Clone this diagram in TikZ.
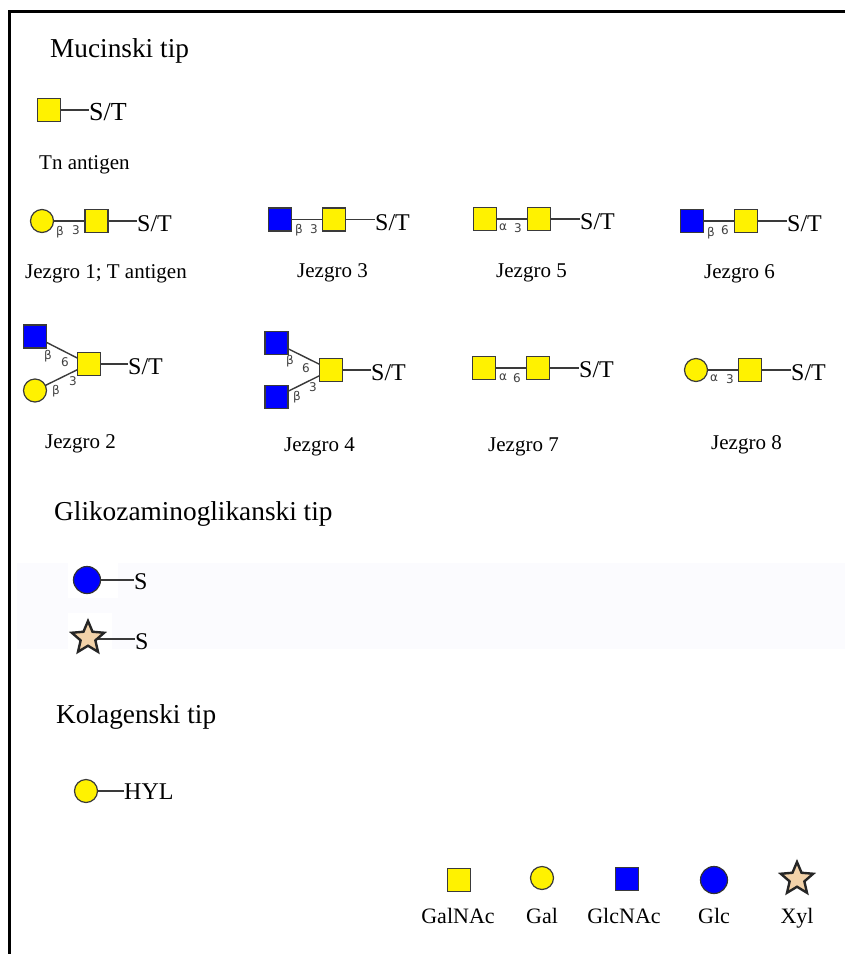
\documentclass[tikz,border=0pt]{standalone}
\usepackage{fontspec}
\setmainfont{Liberation Serif}
\newfontfamily\linkfont{DejaVu Sans}
\usetikzlibrary{shapes.geometric}
\definecolor{symline}{HTML}{3A3A3A}
\definecolor{xylfill}{HTML}{F2D2A9}
\definecolor{bandcol}{HTML}{FBFBFE}
\tikzset{
  x=1pt,y=-1pt,
  sym/.style={draw=symline,line width=1.2pt,inner sep=0pt,outer sep=0pt},
  galnac/.style={sym,rectangle,fill=yellow,minimum size=23pt},
  glcnac/.style={sym,rectangle,fill=blue,minimum size=23pt},
  gal/.style={sym,circle,fill=yellow,minimum size=23pt},
  glc/.style={sym,circle,fill=blue,draw=black!80,minimum size=27pt},
  xyl/.style={star,star points=5,star point ratio=2.2,fill=xylfill,draw=black!85,line width=2.4pt,inner sep=0pt,outer sep=0pt,minimum size=34pt},
  bond/.style={draw=symline,line width=1.4pt},
  head/.style={anchor=base west,inner sep=0pt,font=\fontsize{27.3}{30}\selectfont},
  caption/.style={anchor=base west,inner sep=0pt,font=\fontsize{21}{25}\selectfont},
  legendtext/.style={anchor=base,inner sep=0pt,font=\fontsize{22}{25}\selectfont},
  site/.style={anchor=base west,inner sep=0pt,font=\fontsize{24}{28}\selectfont},
  bigsite/.style={site,font=\fontsize{26}{28}\selectfont},
  link/.style={inner sep=0pt,text=black!75,font=\linkfont\fontsize{12}{14}\selectfont},
}
\begin{document}
\begin{tikzpicture}
\useasboundingbox (0,0) rectangle (845,954);
\fill[white] (0,0) rectangle (845,954);
\fill[bandcol] (17,563) rectangle (845,649);
\fill[white] (68,555) rectangle (118,598);
\fill[white] (68,613) rectangle (112,657);
\draw[black,line width=3pt] (9,954) -- (9,11) -- (845,11);

% headings
\node[head] (hmuc) at (50,57) {Mucinski tip};
\node[head] (hgag) at (54,520) {Glikozaminoglikanski tip};
\node[head] (hkol) at (56,723) {Kolagenski tip};

% Tn antigen
\node[galnac] (tn) at (49,110) {};
\node[bigsite] (tnst) at (89,120) {S/T};
\draw[bond] (tn) -- (tn -| tnst.west);
\node[caption] (ctn) at (39,169) {Tn antigen};

% Jezgro 1
\node[gal] (a1) at (42,221) {};
\node[galnac] (a2) at (96.500,221) {};
\node[site] (ast) at (137,231.500) {S/T};
\draw[bond] (a1) -- (a2);
\draw[bond] (a2) -- (a2 -| ast.west);
\node[link] (al1) at (60,232) {β};
\node[link] (al2) at (76,230) {3};
\node[caption] (ca) at (25,278) {Jezgro 1; T antigen};

% Jezgro 3
\node[glcnac] (b1) at (280,219.500) {};
\node[galnac] (b2) at (334,219.500) {};
\node[site] (bst) at (375,230) {S/T};
\draw[bond] (b1) -- (b2);
\draw[bond] (b2) -- (b2 -| bst.west);
\node[link] (bl1) at (299,230) {β};
\node[link] (bl2) at (314,229) {3};
\node[caption] (cb) at (297,277) {Jezgro 3};

% Jezgro 5
\node[galnac] (c1) at (485,219) {};
\node[galnac] (c2) at (539,219) {};
\node[site] (cst) at (580,229.500) {S/T};
\draw[bond] (c1) -- (c2);
\draw[bond] (c2) -- (c2 -| cst.west);
\node[link] (cl1) at (503,227) {α};
\node[link] (cl2) at (518,228) {3};
\node[caption] (cc) at (496,277) {Jezgro 5};

% Jezgro 6
\node[glcnac] (d1) at (692,221) {};
\node[galnac] (d2) at (746,221) {};
\node[site] (dst) at (787,231) {S/T};
\draw[bond] (d1) -- (d2);
\draw[bond] (d2) -- (d2 -| dst.west);
\node[link] (dl1) at (711,233) {β};
\node[link] (dl2) at (725,230) {6};
\node[caption] (cd) at (704,278) {Jezgro 6};

% Jezgro 2
\node[glcnac] (e1) at (35,336.500) {};
\node[gal] (e2) at (35,390.500) {};
\node[galnac] (e3) at (89,364) {};
\node[site] (est) at (128,374) {S/T};
\draw[bond] (e1) -- (e3);
\draw[bond] (e2) -- (e3);
\draw[bond] (e3) -- (e3 -| est.west);
\node[link] (el1) at (48,356) {β};
\node[link] (el2) at (65,362) {6};
\node[link] (el3) at (56,391) {β};
\node[link] (el4) at (73,381) {3};
\node[caption] (ce) at (45,448) {Jezgro 2};

% Jezgro 4
\node[glcnac] (f1) at (276.500,343) {};
\node[glcnac] (f2) at (276.500,397) {};
\node[galnac] (f3) at (331,370) {};
\node[site] (fst) at (371,380) {S/T};
\draw[bond] (f1) -- (f3);
\draw[bond] (f2) -- (f3);
\draw[bond] (f3) -- (f3 -| fst.west);
\node[link] (fl1) at (290,361) {β};
\node[link] (fl2) at (306,368) {6};
\node[link] (fl3) at (297,397) {β};
\node[link] (fl4) at (313,387) {3};
\node[caption] (cf) at (284,451) {Jezgro 4};

% Jezgro 7
\node[galnac] (g1) at (484,368) {};
\node[galnac] (g2) at (538,368) {};
\node[site] (gst) at (579,377.500) {S/T};
\draw[bond] (g1) -- (g2);
\draw[bond] (g2) -- (g2 -| gst.west);
\node[link] (gl1) at (503,377) {α};
\node[link] (gl2) at (517,378) {6};
\node[caption] (cg) at (488,451) {Jezgro 7};

% Jezgro 8
\node[gal] (h1) at (696,370) {};
\node[galnac] (h2) at (750,370) {};
\node[site] (hst) at (791,380) {S/T};
\draw[bond] (h1) -- (h2);
\draw[bond] (h2) -- (h2 -| hst.west);
\node[link] (hl1) at (714,378) {α};
\node[link] (hl2) at (730,379) {3};
\node[caption] (ch) at (711,449) {Jezgro 8};

% Glycosaminoglycan type
\node[glc] (i1) at (87,580) {};
\node[site] (is) at (134,589) {S};
\draw[bond] (i1) -- (i1 -| is.west);
\coordinate (j0) at (88,639);
\node[site] (js) at (135,649) {S};
\draw[bond] (j0) -- (j0 -| js.west);
\node[xyl] (j1) at (88,638) {};

% Collagen type
\node[gal] (k1) at (86,791) {};
\node[site] (ks) at (124,799) {HYL};
\draw[bond] (k1) -- (k1 -| ks.west);

% Legend
\node[galnac] (l1) at (459,880) {};
\node[gal] (l2) at (542,878) {};
\node[glcnac] (l3) at (627,879) {};
\node[glc] (l4) at (714,880) {};
\node[xyl] (l5) at (797,879) {};
\node[legendtext] (t1) at (458,923) {GalNAc};
\node[legendtext] (t2) at (542,923) {Gal};
\node[legendtext] (t3) at (624,923) {GlcNAc};
\node[legendtext] (t4) at (714,923) {Glc};
\node[legendtext] (t5) at (797,923) {Xyl};
\end{tikzpicture}
\end{document}
